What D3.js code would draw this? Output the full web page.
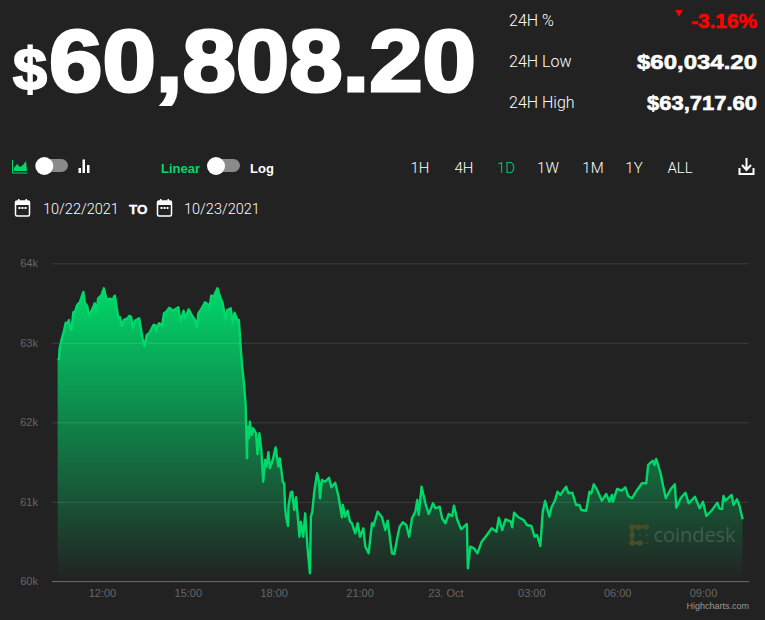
<!DOCTYPE html>
<html>
<head>
<meta charset="utf-8">
<script src="https://cdn.jsdelivr.net/npm/d3@7"></script>
<style>
  html, body { margin: 0; padding: 0; background: #222222; }
  svg { display: block; }
  text { font-family: "Liberation Sans", Arial, sans-serif; }
  .light { font-family: Roboto, "Liberation Sans", sans-serif; font-weight: 300; }
</style>
</head>
<body>
<div id="chart"></div>
<script>
// minutes after midnight on 10/22
const minutes = [627,630,631,636,640,644,648,651,653,656,660,663,668,674,681,684,689,693,699,705,709,712,719,724,730,737,742,747,754,758,761,766,773,777,781,785,789,798,805,809,814,819,828,831,834,837,840,846,850,855,861,869,880,885,891,894,902,908,915,919,922,929,936,942,945,949,954,962,968,973,979,983,990,994,998,1004,1007,1012,1014,1018,1021,1024,1025,1028,1030,1034,1037,1043,1046,1050,1054,1058,1062,1065,1069,1072,1078,1084,1090,1093,1099,1102,1104,1106,1110,1111,1116,1119,1123,1127,1134,1137,1139,1142,1146,1151,1156,1158,1161,1165,1171,1175,1177,1181,1188,1196,1201,1209,1216,1223,1225,1230,1235,1240,1244,1251,1256,1261,1268,1272,1279,1286,1289,1298,1307,1314,1319,1328,1333,1339,1344,1351,1358,1364,1370,1377,1381,1384,1390,1398,1405,1414,1419,1428,1433,1440,1447,1454,1458,1465,1473,1485,1487,1492,1500,1507,1516,1527,1537,1547,1552,1559,1566,1577,1580,1584,1593,1604,1611,1620,1627,1632,1639,1644,1649,1658,1662,1670,1675,1681,1688,1693,1698,1706,1714,1721,1725,1735,1742,1746,1751,1758,1768,1777,1784,1789,1791,1800,1810,1817,1823,1831,1842,1852,1861,1865,1870,1875,1878,1882,1891,1896,1902,1912,1921,1924,1933,1943,1950,1963,1973,1980,1987,1999,2010,2014,2020,2023,2027,2040,2044,2051,2056,2063];

const prices = [62800,62793,62919,63057,63140,63253,63246,63287,63183,63161,63384,63379,63476,63517,63639,63505,63463,63337,63413,63497,63392,63560,63598,63686,63539,63555,63539,63593,63321,63321,63212,63287,63304,63337,63329,63183,63278,63309,63057,62960,63098,63120,63224,63224,63149,63224,63246,63212,63371,63392,63442,63404,63447,63266,63404,63309,63422,63350,63287,63195,63371,63434,63510,63485,63422,63593,63580,63686,63573,63497,63296,63413,63434,63253,63379,63287,63287,62843,62700,62469,62239,61547,61945,61799,62008,61840,61925,61862,61598,61862,61652,61253,61526,61442,61623,61422,61526,61683,61442,61547,61253,61233,60918,60813,60696,60947,61120,61127,60897,61057,60561,60750,60679,60561,60855,60415,60101,60813,60876,61127,61359,61253,61044,61274,61253,61303,61183,61240,61064,60805,60960,60813,60888,60750,60730,60604,60730,60561,60667,60435,60352,60730,60696,60876,60805,60645,60762,60352,60343,60541,60687,60742,60708,60561,60793,60876,61023,60834,61190,60981,60847,60981,60918,60938,60793,60730,60847,60821,60951,60771,60654,60721,60164,60435,60415,60352,60498,60582,60667,60624,60800,60645,60780,60750,60679,60863,60805,60771,60708,60696,60561,60582,60444,60876,61010,60813,60926,61023,61127,61086,61149,61190,61107,61115,60960,60960,60897,60888,61127,61107,61220,61149,61014,61098,61001,61086,61001,61161,61140,61183,61073,61044,61149,61233,61233,61463,61492,61517,61463,61539,61359,61211,61044,61157,61220,60926,61044,61115,60981,61064,60918,61001,60821,60897,60989,60918,60910,61073,61014,61086,60960,61032,60960,60780];

const priceTicks = [60000,61000,62000,63000,64000];
const priceLabels = ["60k","61k","62k","63k","64k"];
const timeTicks = [720,900,1080,1260,1440,1620,1800,1980];
const timeLabels = ["12:00","15:00","18:00","21:00","23. Oct","03:00","06:00","09:00"];

const rangeButtons = ["1H","4H","1D","1W","1M","1Y","ALL"];
const rangeCenters = [420,464,506,548,593,634,680];
const statLabels = ["24H %","24H Low","24H High"];
const statValues = ["-3.16%","$60,034.20","$63,717.60"];
const statWidths = [66,120,110];

const green = "#00d86a";
const width = 765, height = 620;

const svg = d3.select("#chart").append("svg")
  .attr("width", width)
  .attr("height", height)
  .style("background", "#222222");

const x = d3.scaleLinear().domain([627, 2063]).range([57.6, 742.6]);
const y = d3.scaleLinear().domain([60000, 64000]).range([581.3, 263.3]);

const points = minutes.map((m, i) => [m, prices[i]]);

// area fill fades into the page background
const grad = svg.append("defs").append("linearGradient")
  .attr("id", "areaFill")
  .attr("gradientUnits", "userSpaceOnUse")
  .attr("x1", 0).attr("x2", 0)
  .attr("y1", y(63717)).attr("y2", y(60000));
grad.append("stop").attr("offset", 0).attr("stop-color", "#00d86a");
grad.append("stop").attr("offset", 1).attr("stop-color", "#222222");

svg.append("path")
  .datum(points)
  .attr("fill", "url(#areaFill)")
  .attr("d", d3.area().x(d => x(d[0])).y0(y(60000)).y1(d => y(d[1])));

// y axis, ticks double as the gridlines
const yAxis = svg.append("g")
  .attr("transform", "translate(749,0)")
  .call(d3.axisLeft(y)
    .tickValues(priceTicks)
    .tickSize(697)
    .tickFormat((d, i) => priceLabels[i]));
yAxis.select(".domain").remove();
yAxis.selectAll("line").attr("stroke", "rgba(255,255,255,0.12)");
yAxis.selectAll("text")
  .attr("x", -711)
  .attr("dy", "0.32em")
  .attr("fill", "#666666")
  .style("font-size", "11px")
  .style("font-family", "'Liberation Sans', Arial, sans-serif");

// watermark sits under the line
const wm = svg.append("g");
wm.append("text")
  .attr("x", 653.5).attr("y", 542)
  .attr("fill", "#3f5d4d")
  .attr("textLength", 82).attr("lengthAdjust", "spacingAndGlyphs")
  .style("font-size", "20px")
  .style("font-family", "'Open Sans', sans-serif")
  .text("coindesk");
wm.append("path")
  .attr("d", "M646,527H632V543H640")
  .attr("fill", "none").attr("stroke", "#474e29").attr("stroke-width", 3);
const logoX = [632,638.5,646,632,632,640,640,646.7,646.7];
const logoY = [527,527,527,535,543,543,535,535,543];
const logoR = [2.8,2.8,2.8,2.8,2.8,2.8,1,1,1];
wm.selectAll("circle").data(logoX).join("circle")
  .attr("cx", d => d)
  .attr("cy", (d, i) => logoY[i])
  .attr("r", (d, i) => logoR[i])
  .attr("fill", "#474e29");

// price line
svg.append("path")
  .datum(points)
  .attr("fill", "none")
  .attr("stroke", green)
  .attr("stroke-width", 2.4)
  .attr("stroke-linejoin", "round")
  .attr("d", d3.line().x(d => x(d[0])).y(d => y(d[1])));

// x axis
const xAxis = svg.append("g")
  .attr("transform", "translate(0,581.5)")
  .call(d3.axisBottom(x)
    .tickValues(timeTicks)
    .tickSize(0)
    .tickPadding(8)
    .tickFormat((d, i) => timeLabels[i]));
xAxis.select(".domain")
  .attr("d", "M52,0H749")
  .attr("stroke", "#666666");
xAxis.selectAll("text")
  .attr("fill", "#666666")
  .style("font-size", "11px")
  .style("font-family", "'Liberation Sans', Arial, sans-serif");

svg.append("text")
  .attr("x", 749).attr("y", 609)
  .attr("text-anchor", "end")
  .attr("fill", "#999999")
  .style("font-size", "9px")
  .text("Highcharts.com");

// headline price
svg.append("text")
  .attr("x", 13).attr("y", 90)
  .attr("fill", "#ffffff").attr("stroke", "#ffffff").attr("stroke-width", 2)
  .attr("textLength", 34).attr("lengthAdjust", "spacingAndGlyphs")
  .style("font-size", "60px").style("font-weight", 700)
  .text("$");
svg.append("text")
  .attr("x", 49).attr("y", 91)
  .attr("fill", "#ffffff").attr("stroke", "#ffffff").attr("stroke-width", 3)
  .attr("textLength", 427).attr("lengthAdjust", "spacingAndGlyphs")
  .style("font-size", "88px").style("font-weight", 700)
  .text("60,808.20");

// 24h stats
const statBase = [26, 67, 108];
const valueBase = [27.5, 68.5, 109.5];
svg.selectAll(".stat-label").data(statLabels).join("text")
  .attr("class", "stat-label light")
  .attr("x", 509)
  .attr("y", (d, i) => statBase[i])
  .attr("fill", "#ffffff")
  .style("font-size", "16px")
  .text(d => d);
svg.selectAll(".stat-value").data(statValues).join("text")
  .attr("class", "stat-value")
  .attr("x", (d, i) => 757 - statWidths[i])
  .attr("y", (d, i) => valueBase[i])
  .attr("textLength", (d, i) => statWidths[i])
  .attr("lengthAdjust", "spacingAndGlyphs")
  .attr("fill", (d, i) => (i === 0 ? "#ff0000" : "#ffffff"))
  .attr("stroke", (d, i) => (i === 0 ? "#ff0000" : "#ffffff"))
  .attr("stroke-width", 0.6)
  .style("font-size", "21px")
  .style("font-weight", 700)
  .text(d => d);
svg.append("path")
  .attr("d", "M675,10H683L679,16.5Z")
  .attr("fill", "#ff0000");

// chart type toggle
svg.append("path")
  .attr("d", "M12.5,160V173H27.5")
  .attr("fill", "none").attr("stroke", green).attr("stroke-width", 1);
svg.append("path")
  .attr("d", "M14,171V168L17,164L20,167L23,165L26,161L27,171Z")
  .attr("fill", green);
function toggle(x0, w, knob) {
  svg.append("rect")
    .attr("x", x0).attr("y", 159).attr("width", w).attr("height", 13)
    .attr("rx", 6.5)
    .attr("fill", "#8a8a8a");
  svg.append("circle")
    .attr("cx", knob).attr("cy", 166).attr("r", 9)
    .attr("fill", "#ffffff");
}
toggle(38, 30, 44.3);
toggle(210, 30, 216);
const barX = [78.5, 82.5, 87];
const barTop = [168, 159.5, 165];
svg.selectAll(".type-bar").data(barX).join("rect")
  .attr("class", "type-bar")
  .attr("x", d => d)
  .attr("y", (d, i) => barTop[i])
  .attr("width", 2.5)
  .attr("height", (d, i) => 173 - barTop[i])
  .attr("fill", "#ffffff");

svg.append("text").attr("x", 161).attr("y", 173)
  .attr("fill", green).style("font-size", "13px").style("font-weight", 700).text("Linear");
svg.append("text").attr("x", 250).attr("y", 173)
  .attr("fill", "#ffffff").style("font-size", "13px").style("font-weight", 700).text("Log");

// range buttons
svg.selectAll(".range").data(rangeButtons).join("text")
  .attr("class", "range light")
  .attr("x", (d, i) => rangeCenters[i])
  .attr("y", 173)
  .attr("text-anchor", "middle")
  .attr("fill", d => (d === "1D" ? green : "#ffffff"))
  .style("font-size", "15px")
  .text(d => d);

// download icon
svg.append("path")
  .attr("d", "M746.5,158V169M742,165L746.5,170L751,165M739.5,168V174H753.5V168")
  .attr("fill", "none").attr("stroke", "#ffffff").attr("stroke-width", 2);

// date range
function calendar(x0) {
  svg.append("rect")
    .attr("x", x0).attr("y", 201).attr("width", 14).attr("height", 15)
    .attr("rx", 1.5)
    .attr("fill", "none").attr("stroke", "#ffffff").attr("stroke-width", 1.5);
  svg.append("rect")
    .attr("x", x0).attr("y", 201).attr("width", 14).attr("height", 4)
    .attr("fill", "#ffffff");
  svg.selectAll(null).data([3, 6, 9]).join("rect")
    .attr("x", d => x0 + d).attr("y", 207).attr("width", 2).attr("height", 2)
    .attr("fill", "#ffffff");
  svg.selectAll(null).data([2.5, 10]).join("rect")
    .attr("x", d => x0 + d).attr("y", 199).attr("width", 1.5).attr("height", 3)
    .attr("fill", "#ffffff");
}
calendar(15.5);
calendar(157.5);
svg.append("text").attr("x", 43).attr("y", 214).attr("class", "light")
  .attr("fill", "#ffffff").style("font-size", "14.5px").text("10/22/2021");
svg.append("text").attr("x", 129).attr("y", 214)
  .attr("fill", "#ffffff").attr("stroke", "#ffffff").attr("stroke-width", 0.3)
  .style("font-size", "13.5px").style("font-weight", 700).text("TO");
svg.append("text").attr("x", 184).attr("y", 214).attr("class", "light")
  .attr("fill", "#ffffff").style("font-size", "14.5px").text("10/23/2021");
</script>
</body>
</html>
